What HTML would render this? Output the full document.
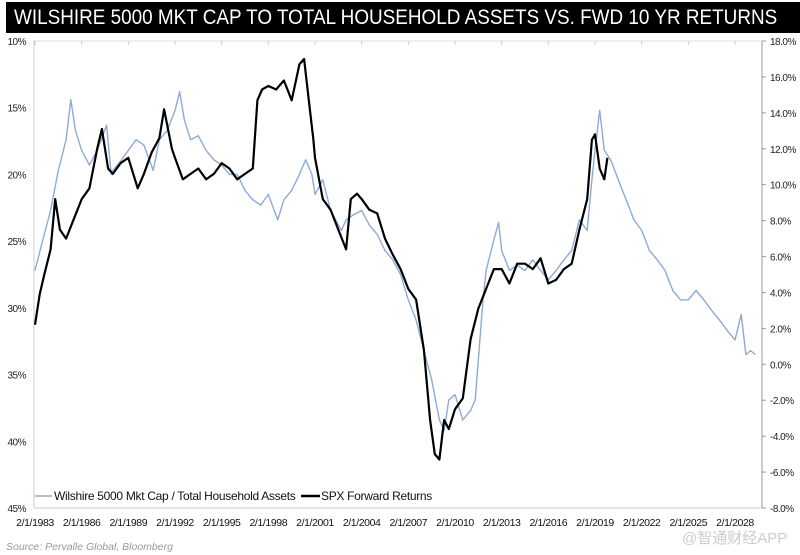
<!DOCTYPE html>
<html><head><meta charset="utf-8"><style>
body{margin:0;background:#fff;width:800px;height:555px;overflow:hidden;font-family:"Liberation Sans",Arial,sans-serif}
#title{position:absolute;left:6px;top:2px;width:794px;height:31px;background:#000;color:#fff;font-size:21px;line-height:32px;padding-left:8px;box-sizing:border-box;white-space:nowrap;overflow:hidden}
</style></head><body>
<div id="title"><span style="display:inline-block;white-space:nowrap;transform:scaleX(0.9);transform-origin:left">WILSHIRE 5000 MKT CAP TO TOTAL HOUSEHOLD ASSETS VS. FWD 10 YR RETURNS</span></div>
<svg id="chart" width="800" height="555" style="position:absolute;left:0;top:0"></svg>
<script>
const blueYears=[1983,1983.5,1984,1984.5,1985,1985.3,1985.6,1986,1986.5,1987,1987.6,1987.9,1988,1988.5,1989,1989.5,1990,1990.6,1991,1991.5,1992,1992.3,1992.6,1993,1993.5,1994,1994.5,1995,1995.5,1996,1996.5,1997,1997.5,1998,1998.6,1999,1999.5,2000,2000.4,2000.8,2001,2001.5,2002,2002.7,2003,2003.5,2004,2004.5,2005,2005.5,2006,2006.5,2007,2007.5,2008,2008.5,2009,2009.3,2009.6,2010,2010.5,2011,2011.3,2011.8,2012,2012.5,2012.8,2013,2013.5,2014,2014.5,2015,2015.5,2016,2016.5,2017,2017.5,2018,2018.5,2018.8,2019,2019.3,2019.6,2020,2020.5,2021,2021.5,2022,2022.5,2023,2023.5,2024,2024.5,2025,2025.5,2026,2026.5,2027,2027.5,2028,2028.4,2028.7,2029,2029.3];
const blueValues=[27.2,24.9,22.7,19.7,17.4,14.4,16.7,18.2,19.3,18.2,16.3,20,19.7,19,18.2,17.4,17.8,19.7,17.4,16.7,15.2,13.8,15.9,17.4,17.1,18.2,18.9,19.3,20,20,21.2,21.9,22.3,21.5,23.4,21.9,21.2,20,18.9,20,21.5,20.4,22.7,24.2,23.4,23,22.7,23.8,24.5,25.7,26.4,27.5,29.4,30.9,33.2,35.4,38.4,39.2,36.9,36.5,38.4,37.7,36.9,29.4,27.2,24.9,23.6,25.7,27.2,26.8,27.2,26.4,27.2,27.9,27.2,26.4,25.7,23.4,24.2,20.4,18.2,15.2,18.2,18.9,20.4,21.9,23.4,24.2,25.7,26.4,27.2,28.7,29.4,29.4,28.7,29.4,30.2,30.9,31.7,32.4,30.5,33.5,33.2,33.5];
const blackYears=[1983,1983.3,1983.6,1984,1984.3,1984.6,1985,1985.5,1986,1986.5,1987,1987.3,1987.7,1988,1988.5,1989,1989.6,1990,1990.5,1991,1991.3,1991.8,1992,1992.5,1993,1993.5,1994,1994.5,1995,1995.5,1996,1996.5,1997,1997.3,1997.6,1998,1998.5,1999,1999.5,2000,2000.3,2000.6,2000.9,2001,2001.5,2002,2002.5,2003,2003.3,2003.7,2004,2004.5,2005,2005.5,2006,2006.5,2007,2007.5,2008,2008.4,2008.7,2009,2009.3,2009.6,2010,2010.5,2011,2011.5,2012,2012.5,2013,2013.5,2014,2014.5,2015,2015.5,2016,2016.5,2017,2017.5,2018,2018.5,2018.8,2019,2019.3,2019.6,2019.8];
const blackValues=[2.2,3.9,5,6.4,9.2,7.5,7,8.1,9.2,9.8,12,13.1,10.9,10.6,11.2,11.5,9.8,10.6,11.8,12.6,14.2,12,11.5,10.3,10.6,10.9,10.3,10.6,11.2,10.9,10.3,10.6,10.9,14.7,15.3,15.5,15.3,15.8,14.7,16.7,17,14.7,12.5,11.5,9.2,8.6,7.5,6.4,9.2,9.5,9.2,8.6,8.4,7,6.1,5.3,4.2,3.6,0.8,-3.1,-5,-5.3,-3.1,-3.6,-2.5,-1.9,1.4,3.1,4.2,5.3,5.3,4.5,5.6,5.6,5.3,5.9,4.5,4.7,5.3,5.6,7.5,9.2,12.5,12.8,10.9,10.3,11.5];
const leftTicks=["10%","15%","20%","25%","30%","35%","40%","45%"];
const rightTicks=["18.0%","16.0%","14.0%","12.0%","10.0%","8.0%","6.0%","4.0%","2.0%","0.0%","-2.0%","-4.0%","-6.0%","-8.0%"];
const xTickYears=[1983,1986,1989,1992,1995,1998,2001,2004,2007,2010,2013,2016,2019,2022,2025,2028];

const X0=34,X1=762,Y0=41,Y1=508;
const xs=y=>35+(y-1983)*(700/45);
const yl=v=>Y0+(v-10)*(Y1-Y0)/35;
const yr=v=>Y0+(18-v)*(Y1-Y0)/26;
const svg=document.getElementById('chart');
const NS='http://www.w3.org/2000/svg';
function mk(t,a,txt){const e=document.createElementNS(NS,t);for(const k in a)e.setAttribute(k,a[k]);if(txt!==undefined)e.textContent=txt;svg.appendChild(e);return e;}

let e=mk('line',{x1:X0,y1:Y0,x2:X1,y2:Y0,stroke:'#ddd','stroke-width':1});


e=mk('line',{x1:X0,y1:Y1,x2:X1,y2:Y1,stroke:'#ccc','stroke-width':1});


e=mk('line',{x1:X0,y1:Y0,x2:X0,y2:Y1,stroke:'#ccc','stroke-width':1});


e=mk('line',{x1:X1,y1:Y0,x2:X1,y2:Y1,stroke:'#999','stroke-width':1});



leftTicks.forEach((t,i)=>{const v=10+i*5;
 const el=mk('text',{x:26,y:yl(v)+4,'font-size':10,'text-anchor':'end',fill:'#222','letter-spacing':'-0.5'},t);
 
 });
rightTicks.forEach((t,i)=>{const v=18-i*2;
 const tk=mk('line',{x1:X1,y1:yr(v),x2:X1+4,y2:yr(v),stroke:'#999'});
 
 
 const el=mk('text',{x:770,y:yr(v)+4,'font-size':10,fill:'#222','letter-spacing':'-0.5'},t);
 
 });
xTickYears.forEach(y=>{
 const tk=mk('line',{x1:xs(y),y1:Y0,x2:xs(y),y2:Y0+4,stroke:'#ccc'});
 
 
 const el=mk('text',{x:xs(y),y:526,'font-size':10.5,'text-anchor':'middle',fill:'#111','letter-spacing':'-0.4'},'2/1/'+y);
 
 });

const bp=blueYears.map((y,i)=>xs(y).toFixed(1)+','+yl(blueValues[i]).toFixed(1)).join(' ');
e=mk('polyline',{points:bp,fill:'none',stroke:'#8eaad8','stroke-width':1.4,'stroke-linejoin':'round'});


const kp=blackYears.map((y,i)=>xs(y).toFixed(1)+','+yr(blackValues[i]).toFixed(1)).join(' ');
e=mk('polyline',{points:kp,fill:'none',stroke:'#000','stroke-width':2.2,'stroke-linejoin':'round'});



e=mk('line',{x1:35,y1:496,x2:52,y2:496,stroke:'#8eaad8','stroke-width':1.4});


e=mk('text',{x:54,y:500,'font-size':12,fill:'#111','letter-spacing':'-0.3'},'Wilshire 5000 Mkt Cap / Total Household Assets');


e=mk('line',{x1:301,y1:496,x2:320,y2:496,stroke:'#000','stroke-width':2.4});


e=mk('text',{x:321,y:500,'font-size':12,fill:'#111','letter-spacing':'-0.3'},'SPX Forward Returns');



e=mk('text',{x:6,y:550,'font-size':10.5,'font-style':'italic',fill:'#999'},'Source: Pervalle Global, Bloomberg');


e=mk('text',{x:682,y:543,'font-size':15,fill:'#ccc','font-family':'"Liberation Sans","Noto Sans CJK SC",sans-serif'},'@智通财经APP');


</script>
</body></html>
